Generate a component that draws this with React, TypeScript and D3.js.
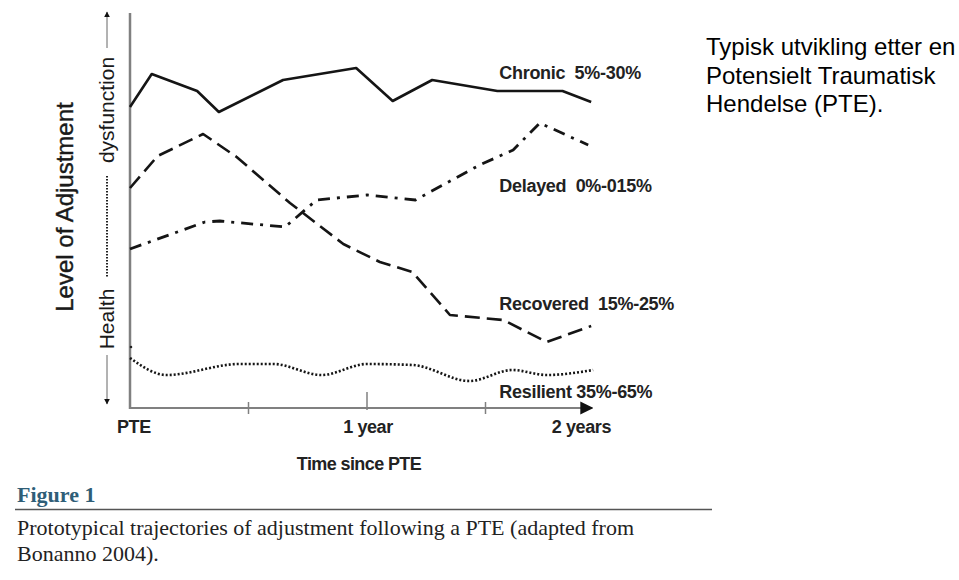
import React from 'react';
import * as d3 from 'd3';

// time in months since the PTE, level of adjustment on a 0..100 scale (0 = health)
const chronicMonths = [0, 1.1, 3.4, 4.5, 7.75, 11.45, 13.3, 15.3, 18.6, 21.9, 23.35];
const chronicLevel = [75.75, 84, 79.75, 74.5, 82.5, 85.5, 77.25, 82.5, 79.75, 79.75, 77];

const delayedMonths = [0, 3.8, 4.55, 7.85, 9.45, 12, 14.45, 17.7, 19.4, 20.75, 23.2];
const delayedLevel = [40.25, 47, 47.25, 45.75, 52.5, 53.75, 52.5, 61.25, 65, 71.75, 66.25];

const recoveredMonths = [0, 1.4, 3.7, 5.4, 8.1, 10.8, 12.65, 14.3, 16.2, 18.9, 21.1, 23.35];
const recoveredLevel = [55.5, 63.5, 69, 63.25, 51.75, 41.5, 37, 34.5, 23.75, 22.5, 17, 21];

const resilientMonths = [0, 1.85, 5.55, 7.25, 9.7, 12, 14.3, 17.2, 19.35, 21.1, 23.45];
const resilientLevel = [13, 8.75, 11.5, 11.5, 8.75, 11.5, 11.25, 7.25, 10, 8.75, 10];

const seriesNames = ['Chronic  5%-30%', 'Delayed  0%-015%', 'Recovered  15%-25%', 'Resilient 35%-65%'];
// where each series name sits (months, level)
const seriesLabelAt = [[18.7, 82.75], [18.7, 54.5], [18.7, 25], [18.7, 3]];

const tickMonths = [6, 12, 18];
const tickLabels = ['PTE', '1 year', '2 years'];
const tickLabelMonths = [0, 12, 24];

const noteLines = ['Typisk utvikling etter en', 'Potensielt Traumatisk', 'Hendelse (PTE).'];
const captionLines = [
  'Prototypical trajectories of adjustment following a PTE (adapted from',
  'Bonanno 2004).',
];

const W = 959;
const H = 580;
const sans = '"Liberation Sans", Arial, sans-serif';
const serif = '"Liberation Serif", "Times New Roman", serif';

const x = d3.scaleLinear().domain([0, 24]).range([130, 604]);
const y = d3.scaleLinear().domain([0, 100]).range([410, 10]);
const axisEnd = 23.3;

const toPts = (ms: number[], vs: number[]) => ms.map((m, i) => [m, vs[i]] as [number, number]);

const straight = d3.line<[number, number]>().x(d => x(d[0])).y(d => y(d[1]));
const smooth = d3.line<[number, number]>().x(d => x(d[0])).y(d => y(d[1])).curve(d3.curveMonotoneX);

const series = [
  { pts: toPts(chronicMonths, chronicLevel), gen: straight, dash: null, w: 2.6 },
  { pts: toPts(delayedMonths, delayedLevel), gen: straight, dash: '12,7,3,7', w: 2.8 },
  { pts: toPts(recoveredMonths, recoveredLevel), gen: straight, dash: '15,7', w: 2.6 },
  { pts: toPts(resilientMonths, resilientLevel), gen: smooth, dash: '2,2', w: 2.6 },
];

export default function App() {
  const y0 = y(0) - 2; // x axis baseline
  return (
    <svg width={W} height={H} style={{ position: 'absolute', left: 0, top: 0, background: '#fff' }}>
      <defs>
        <marker id="arr" viewBox="0 0 10 10" refX="9" refY="5" markerWidth="6" markerHeight="6" orient="auto">
          <path d="M0,0 L10,5 L0,10 z" fill="#111" />
        </marker>
      </defs>

      {/* axes */}
      <line x1={x(0)} x2={x(0)} y1={13} y2={y0 + 1} stroke="#808080" strokeWidth={2.5} />
      <line x1={x(0)} x2={x(axisEnd) + 2} y1={y0} y2={y0} stroke="#808080" strokeWidth={2.2}
        markerEnd="url(#arr)" />
      {tickMonths.map(m => (
        <line key={m} x1={x(m)} x2={x(m)}
          y1={m === 12 ? y0 - 16 : y0 - 6} y2={m === 12 ? y0 + 2 : y0 + 6}
          stroke="#808080" strokeWidth={1.5} />
      ))}
      {tickLabels.map((t, i) => (
        <text key={t} x={x(tickLabelMonths[i])} y={433} fontFamily={sans} fontWeight="bold" fontSize={18}
          fill="#222" letterSpacing={-0.4}
          textAnchor={i === 0 ? 'start' : i === 1 ? 'middle' : 'end'}
          dx={i === 0 ? -13 : i === 2 ? 7 : 1}>{t}</text>
      ))}
      <text x={359} y={470} textAnchor="middle" fontFamily={sans} fontWeight="bold" fontSize={18}
        fill="#222" letterSpacing={-0.6}>Time since PTE</text>

      {/* y axis title */}
      <text transform="translate(73,207) rotate(-90)" textAnchor="middle" fontFamily={sans} fontSize={24}
        fill="#1a1a1a" stroke="#1a1a1a" strokeWidth={0.4}>Level of Adjustment</text>
      <line x1={107} x2={107} y1={48} y2={12} stroke="#666" strokeWidth={1} markerEnd="url(#arr)" />
      <text transform="translate(107,110) rotate(-90)" textAnchor="middle" dominantBaseline="central"
        fontFamily={sans} fontSize={21} fill="#1a1a1a" dy={-1}>dysfunction</text>
      <line x1={107} x2={107} y1={176} y2={278} stroke="#222" strokeWidth={2} strokeDasharray="1.5,1.5" />
      <text transform="translate(107,319) rotate(-90)" textAnchor="middle" dominantBaseline="central"
        fontFamily={sans} fontSize={21} fill="#1a1a1a" dy={-1}>Health</text>
      <line x1={107} x2={107} y1={355} y2={404} stroke="#666" strokeWidth={1} markerEnd="url(#arr)" />

      {/* trajectories */}
      {series.map((s, i) => (
        <path key={i} d={s.gen(s.pts) || ''} fill="none" stroke="#151515" strokeWidth={s.w}
          strokeDasharray={s.dash || undefined} strokeLinejoin="round" />
      ))}
      <circle cx={x(0.05)} cy={y(15.75)} r={1.3} fill="#222" />

      {seriesNames.map((n, i) => (
        <text key={n} x={x(seriesLabelAt[i][0])} y={y(seriesLabelAt[i][1])} fontFamily={sans}
          fontWeight="bold" fontSize={18} fill="#222" letterSpacing={-0.3}
          style={{ whiteSpace: 'pre' }}>{n}</text>
      ))}

      {/* caption */}
      <text x={17} y={502} fontFamily={serif} fontWeight="bold" fontSize={22} fill="#2f5e77">Figure 1</text>
      <line x1={15} x2={712} y1={509.5} y2={509.5} stroke="#555" strokeWidth={1.5} />
      {captionLines.map((l, i) => (
        <text key={i} x={17} y={535 + i * 26} fontFamily={serif} fontSize={22} fill="#222">{l}</text>
      ))}

      {/* note */}
      {noteLines.map((l, i) => (
        <text key={i} x={706} y={55 + i * 28.5} fontFamily={sans} fontSize={24} fill="#000">{l}</text>
      ))}
    </svg>
  );
}
